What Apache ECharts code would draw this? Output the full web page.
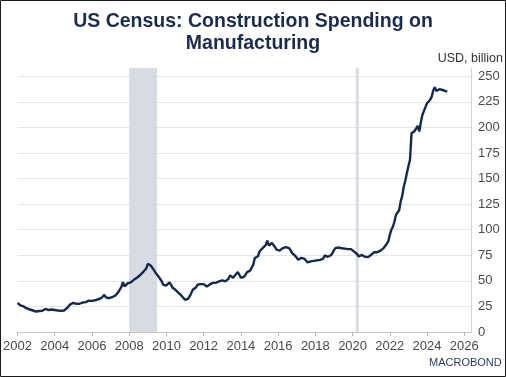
<!DOCTYPE html>
<html>
<head>
<meta charset="utf-8">
<script src="https://cdn.jsdelivr.net/npm/echarts@6/dist/echarts.min.js"></script>
<style>
  html, body { margin: 0; padding: 0; background: #fff; }
  #chart { width: 506px; height: 377px; }
</style>
</head>
<body>
<div id="chart"></div>
<script>
// monthly construction spending on manufacturing, USD billion, Jan 2002 .. Feb 2025
var startYear = 2002;
var spending = [
  // 2002
  28.3, 27, 26, 25.5, 25, 24, 23, 22.5, 22, 21.5, 21, 20.5,
  // 2003
  20, 19.8, 20.5, 20, 20.8, 21.5, 22.5, 22, 21.5, 22.3, 22, 21.5,
  // 2004
  21.5, 22, 21, 21.5, 20.8, 21.5, 21, 22.5, 23.5, 24.5, 27, 28.3,
  // 2005
  28.5, 28, 27.5, 28, 27.6, 28.2, 28.8, 29.5, 29.2, 30, 30.6, 30.5,
  // 2006
  30.4, 30.8, 31, 31.5, 32, 33.2, 33, 34, 36.4, 33.8, 32.5, 33,
  // 2007
  33.2, 34, 35, 35.5, 37, 39, 40.5, 44, 48.8, 44.5, 46, 47.5,
  // 2008
  47.5, 48.5, 49.4, 51, 52.5, 53, 54.3, 55.5, 57, 58.6, 59.5, 62,
  // 2009
  66.7, 65.5, 64.7, 63, 60.5, 58, 56, 54, 51.8, 49.5, 46, 44.5,
  // 2010
  45.5, 47, 48.4, 46, 43.3, 42, 41, 39.7, 38, 36.5, 35, 33.5,
  // 2011
  31.5, 30.9, 32.5, 34.8, 36.5, 41.3, 42, 43.5, 46.2, 45.5, 46.8, 47,
  // 2012
  46.8, 46, 44.5, 46, 46.5, 47.8, 48, 48.5, 48.2, 49, 49.4, 49.8,
  // 2013
  50.4, 50, 49.5, 48.4, 52, 55.3, 54, 53, 55, 56.5, 58.6, 56,
  // 2014
  53, 52, 54, 56, 58.6, 58, 60, 61.8, 66, 72.3, 72.6, 74,
  // 2015
  78.7, 80, 82, 83, 85, 89.2, 84.6, 86, 86.9, 85.5, 83, 80.5,
  // 2016
  78.7, 79.5, 80.5, 82, 82.5, 83, 83, 82, 80, 77.1, 76, 74.5,
  // 2017
  73, 70.6, 72, 72.5, 73.2, 71.5, 70, 68, 68.5, 69, 70, 69.5,
  // 2018
  70.6, 70, 71.6, 70.5, 72, 71.5, 74.8, 74, 73.5, 75, 75, 77,
  // 2019
  80, 82, 81.5, 82.6, 82, 81.8, 82.6, 81.5, 82, 81, 80.5, 81,
  // 2020
  79.5, 78.5, 78, 76, 73.8, 74.5, 75.3, 74.8, 73.5, 74, 73.2, 74,
  // 2021
  75.5, 77, 78, 77.5, 78, 78.4, 79.5, 80.5, 82, 83, 86, 88.5,
  // 2022
  95, 100, 103, 108, 114.6, 116.2, 119, 127.5, 133, 142.2, 148, 155.3,
  // 2023
  162, 168.3, 194.3, 196, 196.5, 197.6, 201.5, 196, 205, 212.2, 214, 220,
  // 2024
  223.6, 225, 227, 230, 236, 239.3, 235.6, 236.5, 237.3, 237, 236.5, 236,
  // 2025
  235.5, 235
];
// recession periods (decimal years)
var recessions = [[2008.0, 2009.5], [2020.17, 2020.33]];
var yTicks = [0, 25, 50, 75, 100, 125, 150, 175, 200, 225, 250];

var seriesData = spending.map(function (v, i) {
  return [startYear + i / 12, v];
});

var myChart = echarts.init(document.getElementById('chart'));
var font = 'Liberation Sans, Arial, sans-serif';

var option = {
  animation: false,
  textStyle: { fontFamily: font },
  title: {
    text: 'US Census: Construction Spending on\nManufacturing',
    left: 'center',
    top: 6,
    textStyle: {
      fontFamily: font,
      fontSize: 19.5,
      fontWeight: 'bold',
      color: '#1a2b4d',
      lineHeight: 22
    }
  },
  grid: { left: 17, right: 35, top: 68, bottom: 45 },
  xAxis: {
    type: 'value',
    min: 2002,
    max: 2026.36,
    interval: 2,
    axisLine: { show: true, lineStyle: { color: '#c8c8c8' } },
    axisTick: { show: true, length: 4, lineStyle: { color: '#b8b8b8' } },
    axisLabel: {
      color: '#4a4a4a',
      fontSize: 13,
      margin: 8,
      showMaxLabel: false,
      formatter: function (v) { return Number.isInteger(v) ? String(v) : ''; }
    },
    splitLine: { show: false }
  },
  yAxis: {
    type: 'value',
    position: 'right',
    min: 0,
    max: 258,
    interval: 25,
    axisLine: { show: true, lineStyle: { color: '#d4d4d4' } },
    axisTick: { show: false },
    axisLabel: {
      color: '#4a4a4a',
      fontSize: 13,
      margin: 7,
      showMaxLabel: false,
      formatter: function (v) { return yTicks.indexOf(v) >= 0 ? String(v) : ''; }
    },
    splitLine: { show: true, showMaxLine: false, lineStyle: { color: '#e6e6e6' } }
  },
  series: [
    {
      type: 'line',
      data: seriesData,
      showSymbol: false,
      lineStyle: { color: '#15294d', width: 2.4 },
      markArea: {
        silent: true,
        itemStyle: { color: '#d8dbe3' },
        data: recessions.map(function (r) {
          return [{ xAxis: r[0] }, { xAxis: r[1] }];
        })
      }
    }
  ],
  graphic: [
    {
      type: 'text',
      right: 3,
      top: 52,
      style: { text: 'USD, billion', fontFamily: font, fontSize: 12.5, fill: '#333' }
    },
    {
      type: 'text',
      left: 429,
      top: 357,
      style: { text: 'MACROBOND', fontFamily: font, fontSize: 11, fill: '#2a3d66' }
    },
    {
      type: 'rect',
      shape: { x: 0.5, y: 0.5, width: 505, height: 376 },
      style: { fill: 'none', stroke: '#1a1a1a', lineWidth: 1 }
    }
  ]
};

option && myChart.setOption(option);
</script>
</body>
</html>
